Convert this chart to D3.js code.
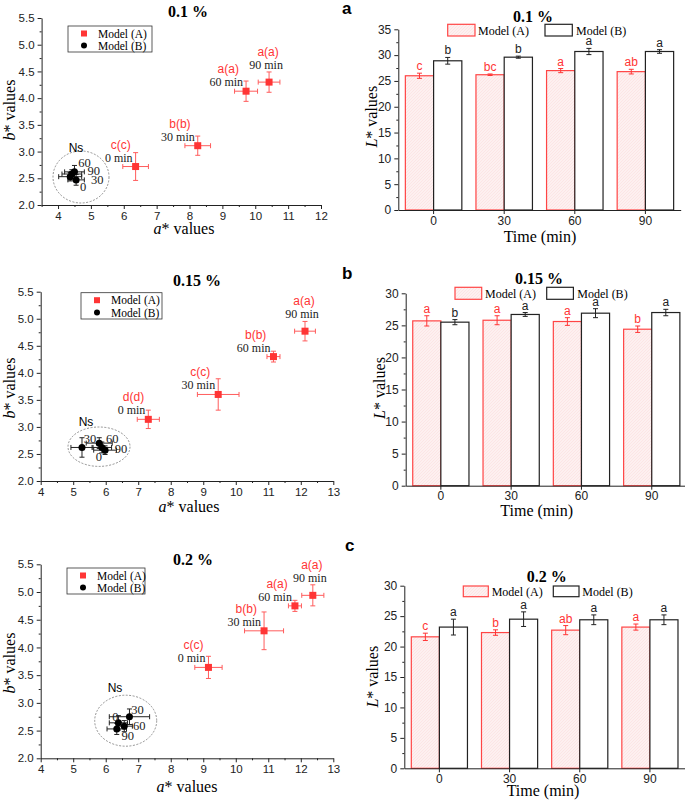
<!DOCTYPE html>
<html>
<head>
<meta charset="utf-8">
<title>colour values</title>
<script src="https://d3js.org/d3.v7.min.js"></script>
<style>
	body { margin: 0; background: #fff; }
	svg text { font-family: 'Liberation Sans', Arial, sans-serif; }
	svg .serif { font-family: 'Liberation Serif', 'Times New Roman', serif; }
	.axis path, .axis line { stroke: #222; }
</style>
</head>
<body>
<script>
// ---- data ----
var pct = ['0.1 %', '0.15 %', '0.2 %'];
var times = [0, 30, 60, 90];
var panelTags = ['a', 'b', 'c'];

// scatter, Model (A)
var aStarA = [[6.36, 8.25, 9.72, 10.42], [7.31, 9.46, 11.16, 12.13], [9.16, 10.87, 11.82, 12.37]];
var aStarAErr = [[0.39, 0.39, 0.35, 0.33], [0.34, 0.64, 0.20, 0.32], [0.42, 0.60, 0.20, 0.34]];
var bStarA = [[2.72, 3.11, 4.13, 4.30], [3.14, 3.60, 4.30, 4.77], [3.64, 4.30, 4.75, 4.94]];
var bStarAErr = [[0.26, 0.18, 0.19, 0.19], [0.17, 0.29, 0.10, 0.18], [0.20, 0.34, 0.10, 0.19]];
var letterA = [['c(c)', 'b(b)', 'a(a)', 'a(a)'], ['d(d)', 'c(c)', 'b(b)', 'a(a)'], ['c(c)', 'b(b)', 'a(a)', 'a(a)']];

// scatter, Model (B)
var aStarB = [[4.55, 4.37, 4.50, 4.42], [5.88, 5.27, 5.80, 5.98], [6.39, 6.73, 6.57, 6.34]];
var aStarBErr = [[0.25, 0.35, 0.30, 0.30], [0.30, 0.34, 0.40, 0.35], [0.28, 0.62, 0.25, 0.30]];
var bStarB = [[2.47, 2.53, 2.62, 2.58], [2.62, 2.62, 2.70, 2.57], [2.64, 2.75, 2.58, 2.53]];
var bStarBErr = [[0.10, 0.08, 0.12, 0.08], [0.10, 0.18, 0.10, 0.08], [0.13, 0.14, 0.10, 0.10]];

// bars, L* values
var lA = [[26.0, 26.2, 27.0, 26.8], [25.7, 25.8, 25.6, 24.4], [21.6, 22.3, 22.7, 23.2]];
var lAErr = [[0.5, 0.15, 0.4, 0.45], [0.8, 0.7, 0.6, 0.5], [0.6, 0.45, 0.75, 0.5]];
var lB = [[28.9, 29.6, 30.7, 30.7], [25.5, 26.7, 26.9, 27.0], [23.2, 24.5, 24.4, 24.4]];
var lBErr = [[0.65, 0.2, 0.6, 0.35], [0.4, 0.3, 0.7, 0.5], [1.3, 1.2, 0.8, 0.8]];
var lLetA = [['c', 'bc', 'a', 'ab'], ['a', 'a', 'a', 'b'], ['c', 'b', 'ab', 'a']];
var lLetB = [['b', 'b', 'a', 'a'], ['b', 'a', 'a', 'a'], ['a', 'a', 'a', 'a']];
var lMax = [35, 30, 30];

// ---- layout ----
var w = 685, h = 800;
var red = '#ff3535';
var redErr = '#ff5c5c';

var scatLayout = [
	{ x0: 41.6, x1: 321, dom: [3.5, 12], y0: 205, y1: 18, title: [188, 17], leg: [68, 26, 84, 26],
		ell: [81, 177, 28, 26], ns: [76, 152], xlab: [184, 234], ylab: [10, 110],
		bOff: [[7, 11], [27, 7], [10, -5], [22, 1]] },
	{ x0: 40.7, x1: 333.3, dom: [4, 13], y0: 481, y1: 291.7, title: [197, 286], leg: [81, 292.7, 81, 26.3],
		ell: [99, 446.7, 31, 19.7], ns: [86, 425.7], xlab: [189, 512], ylab: [10, 388],
		bOff: [[-3, 14], [8, -4.5], [13, 0], [16, 3]] },
	{ x0: 40.7, x1: 333.3, dom: [4, 13], y0: 758.3, y1: 564.3, title: [193, 565], leg: [67, 568, 78, 26],
		ell: [125.7, 720.7, 31, 25.5], ns: [115, 692.3], xlab: [187, 792], ylab: [10, 663],
		bOff: [[-3, -2], [8, -3], [15, 4], [11, 11]] }
];

var barLayout = [
	{ x0: 398.3, x1: 680.7, y0: 210, y1: 29.3, title: [533, 22], legY: 24.3, legH: 11.7,
		legA: [447.7, 27.3, 478], legB: [545, 27.3, 576], ylab: [371.7, 116.7], xlab: [540, 242], tag: [342, 14] },
	{ x0: 405.7, x1: 686.9, y0: 485.7, y1: 293.3, title: [539, 283.5], legY: 287.3, legH: 12,
		legA: [455, 26.7, 485], legB: [546.7, 26.7, 577.3], ylab: [380, 388], xlab: [536.7, 516], tag: [342, 279] },
	{ x0: 404.3, x1: 685, y0: 768.3, y1: 585.7, title: [546.7, 582], legY: 586, legH: 10.7,
		legA: [463.3, 25, 491.7], legB: [553.3, 25.7, 582.3], ylab: [373.3, 676.7], xlab: [543, 796], tag: [345, 551] }
];

var svg = d3.select('body')
	.append('svg')
	.attr('width', w)
	.attr('height', h);

var defs = svg.append('defs');
var pat = defs.append('pattern')
	.attr('id', 'hatch')
	.attr('patternUnits', 'userSpaceOnUse')
	.attr('width', 3)
	.attr('height', 3);
pat.append('rect').attr('width', 3).attr('height', 3).attr('fill', '#fdf0f0');
pat.append('path').attr('d', 'M0,3 L3,0').attr('stroke', '#fadada').attr('stroke-width', 0.5);

function errBar(g, x1, y1, x2, y2, color, cap, horiz) {
	g.append('line').attr('x1', x1).attr('y1', y1).attr('x2', x2).attr('y2', y2)
		.attr('stroke', color).attr('stroke-width', 1);
	if (horiz) {
		[x1, x2].forEach(function (x) {
			g.append('line').attr('x1', x).attr('x2', x).attr('y1', y1 - cap).attr('y2', y1 + cap)
				.attr('stroke', color).attr('stroke-width', 1);
		});
	} else {
		[y1, y2].forEach(function (y) {
			g.append('line').attr('y1', y).attr('y2', y).attr('x1', x1 - cap).attr('x2', x1 + cap)
				.attr('stroke', color).attr('stroke-width', 1);
		});
	}
}

function drawScatter(p) {
	var L = scatLayout[p];
	var g = svg.append('g');
	var x = d3.scaleLinear().domain(L.dom).range([L.x0, L.x1]);
	var y = d3.scaleLinear().domain([2, 5.5]).range([L.y0, L.y1]);

	var xt = d3.range(Math.ceil(L.dom[0]), L.dom[1] + 0.01, 1);
	var xm = d3.range(L.dom[0], L.dom[1] + 0.01, 0.5).filter(function (v) { return v % 1 !== 0; });
	var yt = d3.range(2, 5.51, 0.5);
	var ym = d3.range(2.25, 5.5, 0.5);

	g.append('g').attr('class', 'axis').attr('transform', 'translate(0,' + L.y0 + ')')
		.call(d3.axisBottom(x).tickValues(xt).tickSize(4).tickSizeOuter(0).tickFormat(d3.format('d')))
		.call(function (s) { s.selectAll('text').attr('font-size', 11.5).attr('font-family', null).attr('fill', '#222'); });
	g.append('g').attr('class', 'axis').attr('transform', 'translate(0,' + L.y0 + ')')
		.call(d3.axisBottom(x).tickValues(xm).tickSize(2).tickSizeOuter(0).tickFormat(''))
		.call(function (s) { s.select('.domain').remove(); });
	g.append('g').attr('class', 'axis').attr('transform', 'translate(' + L.x0 + ',0)')
		.call(d3.axisLeft(y).tickValues(yt).tickSize(4).tickSizeOuter(0).tickFormat(d3.format('.1f')))
		.call(function (s) { s.selectAll('text').attr('font-size', 11.5).attr('font-family', null).attr('fill', '#222'); });
	g.append('g').attr('class', 'axis').attr('transform', 'translate(' + L.x0 + ',0)')
		.call(d3.axisLeft(y).tickValues(ym).tickSize(2).tickSizeOuter(0).tickFormat(''))
		.call(function (s) { s.select('.domain').remove(); });

	// title
	g.append('text').attr('class', 'serif').attr('x', L.title[0]).attr('y', L.title[1])
		.attr('text-anchor', 'middle').attr('font-size', 16).attr('font-weight', 'bold').text(pct[p]);

	// axis titles
	var xl = g.append('text').attr('class', 'serif').attr('x', L.xlab[0]).attr('y', L.xlab[1])
		.attr('text-anchor', 'middle').attr('font-size', 16);
	xl.append('tspan').attr('font-style', 'italic').text('a');
	xl.append('tspan').text('* values');
	var yl = g.append('text').attr('class', 'serif')
		.attr('transform', 'translate(' + (L.ylab[0] + 5) + ',' + L.ylab[1] + ') rotate(-90)')
		.attr('text-anchor', 'middle').attr('font-size', 16);
	yl.append('tspan').attr('font-style', 'italic').text('b');
	yl.append('tspan').text('* values');

	// legend
	g.append('rect').attr('x', L.leg[0]).attr('y', L.leg[1]).attr('width', L.leg[2]).attr('height', L.leg[3])
		.attr('fill', 'none').attr('stroke', '#333').attr('stroke-width', 0.8);
	var lx = L.leg[0] + 16, ly1 = L.leg[1] + 7.5, ly2 = L.leg[1] + L.leg[3] - 6.5;
	g.append('rect').attr('x', lx - 3).attr('y', ly1 - 3).attr('width', 6).attr('height', 6).attr('fill', red);
	g.append('circle').attr('cx', lx).attr('cy', ly2).attr('r', 3).attr('fill', '#000');
	g.append('text').attr('class', 'serif').attr('x', lx + 14).attr('y', ly1 + 4).attr('font-size', 11.5).text('Model (A)');
	g.append('text').attr('class', 'serif').attr('x', lx + 14).attr('y', ly2 + 4).attr('font-size', 11.5).text('Model (B)');

	// Ns ellipse
	g.append('ellipse').attr('cx', L.ell[0]).attr('cy', L.ell[1]).attr('rx', L.ell[2]).attr('ry', L.ell[3])
		.attr('fill', 'none').attr('stroke', '#777').attr('stroke-width', 0.8).attr('stroke-dasharray', '2,1.5');
	g.append('text').attr('x', L.ns[0]).attr('y', L.ns[1]).attr('text-anchor', 'middle').attr('font-size', 12).text('Ns');

	// Model (B) points
	times.forEach(function (t, i) {
		var px = x(aStarB[p][i]), py = y(bStarB[p][i]);
		errBar(g, x(aStarB[p][i] - aStarBErr[p][i]), py, x(aStarB[p][i] + aStarBErr[p][i]), py, '#222', 2.5, true);
		errBar(g, px, y(bStarB[p][i] - bStarBErr[p][i]), px, y(bStarB[p][i] + bStarBErr[p][i]), '#222', 2.5, false);
	});
	times.forEach(function (t, i) {
		var px = x(aStarB[p][i]), py = y(bStarB[p][i]);
		g.append('circle').attr('cx', px).attr('cy', py).attr('r', 3.5).attr('fill', '#000');
		g.append('text').attr('class', 'serif').attr('x', px + L.bOff[i][0]).attr('y', py + L.bOff[i][1])
			.attr('text-anchor', 'middle').attr('font-size', 12.5).attr('fill', '#222').text(t);
	});

	// Model (A) points
	times.forEach(function (t, i) {
		var px = x(aStarA[p][i]), py = y(bStarA[p][i]);
		errBar(g, x(aStarA[p][i] - aStarAErr[p][i]), py, x(aStarA[p][i] + aStarAErr[p][i]), py, redErr, 2.5, true);
		errBar(g, px, y(bStarA[p][i] - bStarAErr[p][i]), px, y(bStarA[p][i] + bStarAErr[p][i]), redErr, 2.5, false);
		g.append('rect').attr('x', px - 3.5).attr('y', py - 3.5).attr('width', 7).attr('height', 7).attr('fill', red);

		var last = i === times.length - 1;
		var mt = g.append('text').attr('class', 'serif').attr('font-size', 12).attr('fill', '#222')
			.attr('x', px - 3)
			.attr('y', last ? py - 13 : py - 5)
			.attr('text-anchor', last ? 'middle' : 'end')
			.text(t + ' min');
		var bb = mt.node().getBBox();
		g.append('text').attr('font-size', 12).attr('fill', red)
			.attr('x', bb.x + bb.width / 2 + 2)
			.attr('y', (last ? py - 13 : py - 5) - 13)
			.attr('text-anchor', 'middle')
			.text(letterA[p][i]);
	});
}

function drawBars(p) {
	var L = barLayout[p];
	var g = svg.append('g');
	var x = d3.scaleBand().domain(times).range([L.x0, L.x1]).padding(0);
	var xs = d3.scaleBand().domain(['A', 'B']).range([0, x.bandwidth()]).paddingInner(0).paddingOuter(0.25);
	var y = d3.scaleLinear().domain([0, lMax[p]]).range([L.y0, L.y1]);

	// bars
	times.forEach(function (t, i) {
		var bx = x(t);
		g.append('rect').attr('x', bx + xs('A')).attr('y', y(lA[p][i]))
			.attr('width', xs.bandwidth()).attr('height', y(0) - y(lA[p][i]))
			.attr('fill', 'url(#hatch)').attr('stroke', '#ff4545').attr('stroke-width', 1.2);
		g.append('rect').attr('x', bx + xs('B')).attr('y', y(lB[p][i]))
			.attr('width', xs.bandwidth()).attr('height', y(0) - y(lB[p][i]))
			.attr('fill', '#fff').attr('stroke', '#222').attr('stroke-width', 1.2);

		var cxA = bx + xs('A') + xs.bandwidth() / 2, cxB = bx + xs('B') + xs.bandwidth() / 2;
		errBar(g, cxA, y(lA[p][i] - lAErr[p][i]), cxA, y(lA[p][i] + lAErr[p][i]), red, 2.5, false);
		errBar(g, cxB, y(lB[p][i] - lBErr[p][i]), cxB, y(lB[p][i] + lBErr[p][i]), '#222', 2.5, false);
		g.append('text').attr('x', cxA).attr('y', y(lA[p][i] + lAErr[p][i]) - 3)
			.attr('text-anchor', 'middle').attr('font-size', 12).attr('fill', red).text(lLetA[p][i]);
		g.append('text').attr('x', cxB).attr('y', y(lB[p][i] + lBErr[p][i]) - 3)
			.attr('text-anchor', 'middle').attr('font-size', 12).attr('fill', '#222').text(lLetB[p][i]);
	});

	// axes
	g.append('g').attr('class', 'axis').attr('transform', 'translate(0,' + L.y0 + ')')
		.call(d3.axisBottom(x).tickSize(4).tickSizeOuter(0).tickPadding(2))
		.call(function (s) { s.selectAll('text').attr('font-size', 12).attr('font-family', null).attr('fill', '#222'); });
	g.append('g').attr('class', 'axis').attr('transform', 'translate(' + L.x0 + ',0)')
		.call(d3.axisLeft(y).tickValues(d3.range(0, lMax[p] + 0.1, 5)).tickSize(4).tickSizeOuter(0))
		.call(function (s) { s.selectAll('text').attr('font-size', 12).attr('font-family', null).attr('fill', '#222'); });
	g.append('g').attr('class', 'axis').attr('transform', 'translate(' + L.x0 + ',0)')
		.call(d3.axisLeft(y).tickValues(d3.range(2.5, lMax[p], 5)).tickSize(2).tickFormat(''))
		.call(function (s) { s.select('.domain').remove(); });

	// title and legend
	g.append('text').attr('class', 'serif').attr('x', L.title[0]).attr('y', L.title[1])
		.attr('text-anchor', 'middle').attr('font-size', 16).attr('font-weight', 'bold').text(pct[p]);
	g.append('rect').attr('x', L.legA[0]).attr('y', L.legY).attr('width', L.legA[1]).attr('height', L.legH)
		.attr('fill', 'url(#hatch)').attr('stroke', '#ff4545').attr('stroke-width', 1.2);
	g.append('text').attr('class', 'serif').attr('x', L.legA[2]).attr('y', L.legY + L.legH / 2 + 4.5)
		.attr('font-size', 12).text('Model (A)');
	g.append('rect').attr('x', L.legB[0]).attr('y', L.legY).attr('width', L.legB[1]).attr('height', L.legH)
		.attr('fill', '#fff').attr('stroke', '#222').attr('stroke-width', 1.2);
	g.append('text').attr('class', 'serif').attr('x', L.legB[2]).attr('y', L.legY + L.legH / 2 + 4.5)
		.attr('font-size', 12).text('Model (B)');

	// axis titles
	var yl = g.append('text').attr('class', 'serif')
		.attr('transform', 'translate(' + (L.ylab[0] + 5) + ',' + L.ylab[1] + ') rotate(-90)')
		.attr('text-anchor', 'middle').attr('font-size', 16);
	yl.append('tspan').attr('font-style', 'italic').text('L');
	yl.append('tspan').text('* values');
	g.append('text').attr('class', 'serif').attr('x', L.xlab[0]).attr('y', L.xlab[1])
		.attr('text-anchor', 'middle').attr('font-size', 16).text('Time (min)');

	// panel tag
	g.append('text').attr('x', L.tag[0]).attr('y', L.tag[1])
		.attr('font-size', 17).attr('font-weight', 'bold').text(panelTags[p]);
}

[0, 1, 2].forEach(function (p) {
	drawScatter(p);
	drawBars(p);
});
</script>
</body>
</html>
